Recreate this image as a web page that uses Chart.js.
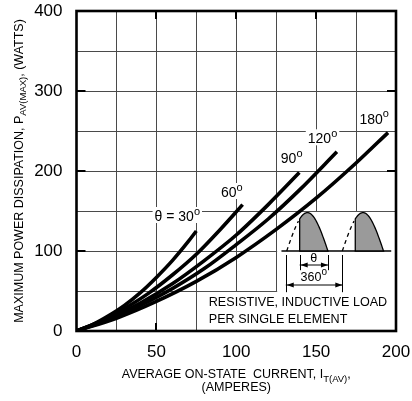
<!DOCTYPE html>
<html>
<head>
<meta charset="utf-8">
<title>Maximum Power Dissipation vs Average On-State Current</title>
<script src="https://cdn.jsdelivr.net/npm/chart.js@4/dist/chart.umd.min.js"></script>
<style>
  html, body { margin: 0; padding: 0; background: #fff; }
  canvas { display: block; }
</style>
</head>
<body>
<canvas id="chart" width="412" height="401"></canvas>
<script>
// Average on-state current (A) against maximum power dissipation (W),
// one curve per conduction angle.
const angleLabels = ['θ = 30', '60', '90', '120', '180'];

const current30  = [0, 10, 20, 30, 40, 50, 60, 70, 75];
const power30    = [0, 8, 19, 32, 48, 67, 88, 112, 125];
const current60  = [0, 15, 30, 45, 60, 75, 90, 104];
const power60    = [0, 12, 28, 47, 70, 96, 127, 158];
const current90  = [0, 20, 40, 60, 80, 100, 120, 139.5];
const power90    = [0, 15.5, 35, 59, 88, 120, 158, 198];
const current120 = [0, 20, 40, 60, 80, 100, 120, 140, 163];
const power120   = [0, 14, 32, 53, 78, 108, 140, 177, 224];
const current180 = [0, 25, 50, 75, 100, 125, 150, 175, 195];
const power180   = [0, 16, 37, 62, 92, 127, 166, 210, 248];

const xTickLabels = [0, 50, 100, 150, 200];
const yTickLabels = [0, 100, 200, 300, 400];

const seriesCurrent = [current30, current60, current90, current120, current180];
const seriesPower   = [power30, power60, power90, power120, power180];

// Where each angle label sits, in axis units (centre x, baseline y)
const labelAnchors = [[63.1, 137.5], [97.2, 167.5], [134.7, 209.6], [154, 234.6], [186.3, 258.8]];

const FONT = '"Liberation Sans", Arial, Helvetica, sans-serif';
const font = s => s + 'px ' + FONT;

function runsWidth(ctx, runs) {
  let w = 0;
  for (const r of runs) { ctx.font = font(r.size); w += ctx.measureText(r.text).width; }
  return w;
}
function drawRuns(ctx, runs, x, y) {
  let cx = x;
  ctx.textAlign = 'left';
  ctx.textBaseline = 'alphabetic';
  for (const r of runs) {
    ctx.font = font(r.size);
    ctx.fillText(r.text, cx, y + (r.dy || 0));
    cx += ctx.measureText(r.text).width;
  }
  return cx;
}
function arrowHead(ctx, tipX, y, dir) {
  ctx.beginPath();
  ctx.moveTo(tipX, y);
  ctx.lineTo(tipX - dir * 7, y - 2.6);
  ctx.lineTo(tipX - dir * 7, y + 2.6);
  ctx.closePath();
  ctx.fill();
}

const datasets = seriesPower.map((p, i) => ({
  label: angleLabels[i],
  data: p.map((v, k) => ({ x: seriesCurrent[i][k], y: v })),
  borderColor: '#000',
  borderWidth: 3.6,
  borderCapStyle: 'butt',
  pointRadius: 0,
  fill: false,
  cubicInterpolationMode: 'monotone'
}));

const graphPlugin = {
  id: 'graphDecor',
  beforeDatasetsDraw(chart) {
    const ctx = chart.ctx, xs = chart.scales.x, ys = chart.scales.y;
    const X = v => xs.getPixelForValue(v), Y = v => ys.getPixelForValue(v);
    const a = chart.chartArea;
    ctx.save();
    // inward major tick marks on all four sides
    ctx.strokeStyle = '#000';
    ctx.lineWidth = 2;
    ctx.beginPath();
    yTickLabels.slice(1, -1).forEach(v => {
      const py = Math.round(Y(v));
      ctx.moveTo(a.left, py); ctx.lineTo(a.left + 9, py);
      ctx.moveTo(a.right, py); ctx.lineTo(a.right - 9, py);
    });
    xTickLabels.slice(1, -1).forEach(v => {
      const px = Math.round(X(v));
      ctx.moveTo(px, a.top); ctx.lineTo(px, a.top + 8);
      ctx.moveTo(px, a.bottom); ctx.lineTo(px, a.bottom - 8);
    });
    ctx.stroke();

    // blank panels for the waveform sketch and the load note
    ctx.fillStyle = '#fff';
    ctx.fillRect(X(125.6), Y(148.8), a.right - X(125.6), a.bottom - Y(148.8));
    ctx.fillRect(X(75.9), Y(48.8), a.right - X(75.9), a.bottom - Y(48.8));

    // blank patches behind the angle labels
    labelAnchors.forEach((p, i) => {
      const runs = [{ text: angleLabels[i], size: 14 }, { text: 'o', size: 11, dy: -6.5 }];
      const w = runsWidth(ctx, runs);
      const x0 = X(p[0]) - w / 2, by = Y(p[1]);
      ctx.fillStyle = '#fff';
      ctx.fillRect(x0 - 2, by - 14, w + 4, 16);
    });
    ctx.restore();
  },
  afterDatasetsDraw(chart) {
    const ctx = chart.ctx, xs = chart.scales.x, ys = chart.scales.y;
    const X = v => xs.getPixelForValue(v), Y = v => ys.getPixelForValue(v);
    const a = chart.chartArea;
    ctx.save();

    // frame
    ctx.strokeStyle = '#000';
    ctx.lineWidth = 2.6;
    ctx.strokeRect(a.left, a.top, a.right - a.left, a.bottom - a.top);

    // angle labels with raised degree mark
    ctx.fillStyle = '#000';
    labelAnchors.forEach((p, i) => {
      const runs = [{ text: angleLabels[i], size: 14 }, { text: 'o', size: 11, dy: -6.5 }];
      const w = runsWidth(ctx, runs);
      drawRuns(ctx, runs, X(p[0]) - w / 2, Y(p[1]));
    });

    // waveform sketch: two half-sine pulses, conducting part shaded
    const base = 100, amp = 48;
    const pulses = [[131.6, 157.4, 139.7], [166.4, 192.2, 174.5]];
    ctx.lineWidth = 1.3;
    ctx.strokeStyle = '#000';
    ctx.beginPath();
    ctx.moveTo(X(128.3), Y(base)); ctx.lineTo(X(197), Y(base));
    ctx.stroke();
    pulses.forEach(([s, e, f]) => {
      const pt = t => [X(s + (e - s) * t), Y(base + amp * Math.sin(Math.PI * t))];
      const tf = (f - s) / (e - s);
      // shaded conducting part
      ctx.beginPath();
      ctx.moveTo(X(f), Y(base));
      for (let k = 0; k <= 40; k++) {
        const t = tf + (1 - tf) * k / 40;
        const [px, py] = pt(t);
        ctx.lineTo(px, py);
      }
      ctx.closePath();
      ctx.fillStyle = '#9a9a9a';
      ctx.fill();
      ctx.stroke();
      // dashed non-conducting lead-in
      ctx.setLineDash([4, 3.5]);
      ctx.beginPath();
      for (let k = 0; k <= 12; k++) {
        const t = (tf - 0.03) * k / 12;
        const [px, py] = pt(t);
        if (k === 0) ctx.moveTo(px, py); else ctx.lineTo(px, py);
      }
      ctx.stroke();
      ctx.setLineDash([]);
    });

    // dimension lines for θ and 360°
    ctx.lineWidth = 1;
    ctx.beginPath();
    [[131.0, 48.5], [139.7, 76], [157.4, 76], [166.4, 48.5]].forEach(([xv, yb]) => {
      const px = Math.round(X(xv)) + 0.5;
      ctx.moveTo(px, Y(95)); ctx.lineTo(px, Y(yb));
    });
    const yTh = Y(82.5), y360 = Y(57.5);
    ctx.moveTo(X(139.7), yTh); ctx.lineTo(X(157.4), yTh);
    ctx.moveTo(X(131.0), y360); ctx.lineTo(X(166.4), y360);
    ctx.stroke();
    ctx.fillStyle = '#000';
    arrowHead(ctx, X(139.7) + 1, yTh, -1);
    arrowHead(ctx, X(157.4), yTh, 1);
    arrowHead(ctx, X(131.0) + 1, y360, -1);
    arrowHead(ctx, X(166.4), y360, 1);

    ctx.font = font(12.5);
    ctx.textAlign = 'center';
    ctx.textBaseline = 'alphabetic';
    ctx.fillText('θ', X(148.5), Y(86.3));
    const r360 = [{ text: '360', size: 12.5 }, { text: 'o', size: 10, dy: -6 }];
    drawRuns(ctx, r360, X(148.5) - runsWidth(ctx, r360) / 2, Y(61.9));

    // load note
    ctx.font = font(12.6);
    ctx.textAlign = 'left';
    ctx.fillText('RESISTIVE, INDUCTIVE LOAD', X(82.8), Y(31.2));
    ctx.fillText('PER SINGLE ELEMENT', X(82.8), Y(9.4));

    // x-axis title
    const cx = (a.left + a.right) / 2;
    const xt = [
      { text: 'AVERAGE ON-STATE  CURRENT, I', size: 12.5 },
      { text: 'T(AV)', size: 9.5, dy: 3.5 },
      { text: ',', size: 12.5 }
    ];
    drawRuns(ctx, xt, cx - runsWidth(ctx, xt) / 2, 378);
    ctx.font = font(12.5);
    ctx.textAlign = 'center';
    ctx.fillText('(AMPERES)', cx, 390.5);

    // y-axis title, rotated
    const yt = [
      { text: 'MAXIMUM POWER DISSIPATION, P', size: 12.5 },
      { text: 'AV(MAX)', size: 9.5, dy: 3.5 },
      { text: ', (WATTS)', size: 12.5 }
    ];
    const cy = (a.top + a.bottom) / 2;
    ctx.translate(22.5, cy);
    ctx.rotate(-Math.PI / 2);
    drawRuns(ctx, yt, -runsWidth(ctx, yt) / 2, 0);
    ctx.restore();
  }
};

new Chart(document.getElementById('chart'), {
  type: 'line',
  data: { datasets },
  plugins: [graphPlugin],
  options: {
    responsive: false,
    animation: false,
    devicePixelRatio: 1,
    layout: { padding: { left: 0, right: 16, top: 11, bottom: 0 } },
    plugins: { legend: { display: false }, tooltip: { enabled: false } },
    scales: {
      x: {
        type: 'linear',
        min: 0, max: 200,
        afterFit: s => { s.height = 70; s.paddingLeft = 0; s.paddingRight = 0; },
        border: { display: false },
        grid: { color: '#4a4a4a', lineWidth: 1, drawTicks: false },
        ticks: {
          stepSize: 25,
          autoSkip: false,
          maxRotation: 0,
          padding: 11,
          color: '#000',
          font: { family: FONT, size: 17 },
          callback: v => xTickLabels.includes(v) ? String(v) : ''
        }
      },
      y: {
        type: 'linear',
        min: 0, max: 400,
        afterFit: s => { s.width = 76.5; s.paddingTop = 0; s.paddingBottom = 0; },
        border: { display: false },
        grid: { color: '#4a4a4a', lineWidth: 1, drawTicks: false },
        ticks: {
          stepSize: 50,
          autoSkip: false,
          padding: 14,
          color: '#000',
          font: { family: FONT, size: 17 },
          callback: v => yTickLabels.includes(v) ? String(v) : ''
        }
      }
    }
  }
});
</script>
</body>
</html>
